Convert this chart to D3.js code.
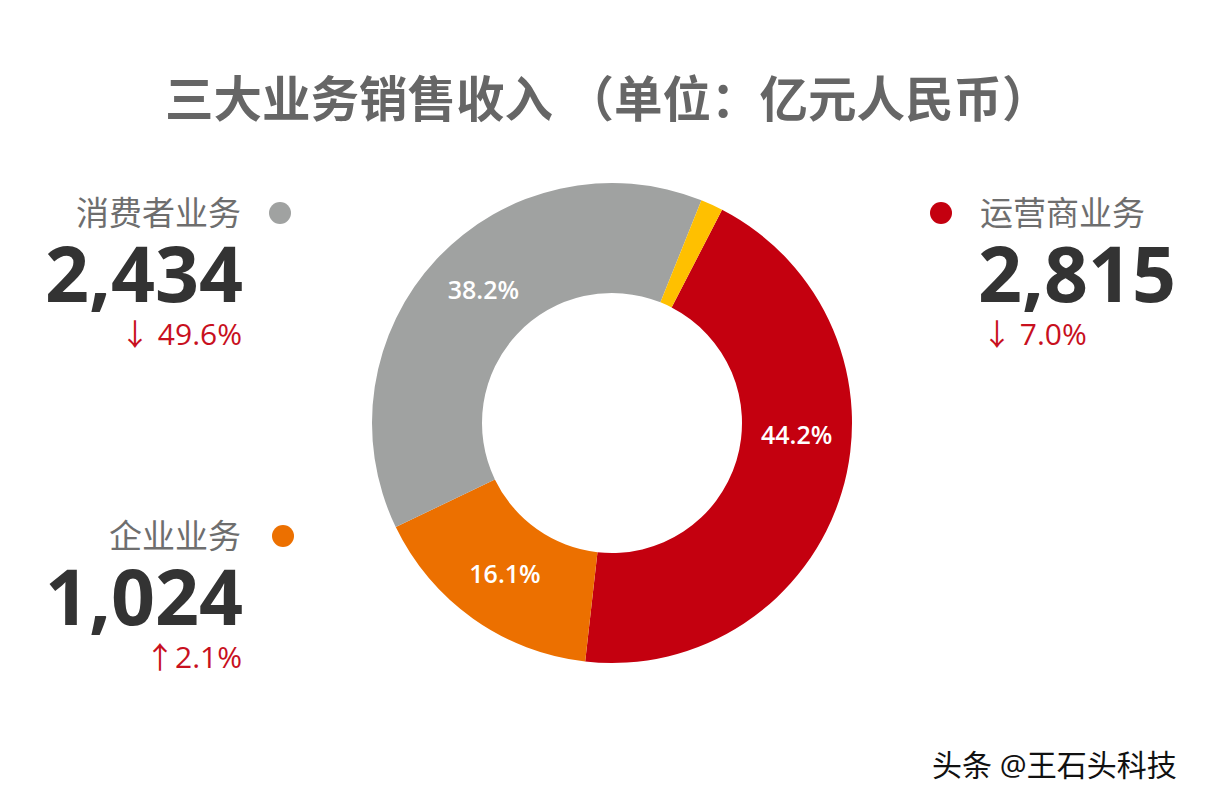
<!DOCTYPE html>
<html>
<head>
<meta charset="utf-8">
<script src="https://cdn.jsdelivr.net/npm/d3@7"></script>
<style>
  body { margin: 0; background: #fff; }
  svg text { font-family: "Open Sans", "Noto Sans CJK SC", sans-serif; }
</style>
</head>
<body>
<div class="grafico"></div>
<script>
// datos
const segmentos = ["运营商业务", "企业业务", "消费者业务", "其他"];
const ingresos = [2815, 1024, 2434, 96];
const porcentajes = ["44.2%", "16.1%", "38.2%", ""];
const variaciones = ["↓ 7.0%", "↑2.1%", "↓ 49.6%", ""];
const colores = ["#c4000f", "#ec7000", "#a0a2a1", "#ffc000"];
const titulo = "三大业务销售收入 （单位：亿元人民币）";
const firma = "头条 @王石头科技";

var width = 1206, height = 802;
var cx = 612, cy = 423, rOut = 240, rIn = 130;

var svg = d3.select(".grafico")
  .append("svg")
  .attr("width", width)
  .attr("height", height);

// titulo
svg.append("text")
  .attr("x", 165)
  .attr("y", 117)
  .attr("font-family", "Noto Sans CJK SC")
  .attr("font-weight", 700)
  .attr("font-size", 48.5)
  .attr("fill", "#666")
  .text(titulo);

// dona
var datos = segmentos.map((d, i) => ({nombre: d, valor: ingresos[i], pct: porcentajes[i], color: colores[i]}));
var inicio = 27.3 * Math.PI / 180;
var pie = d3.pie().sort(null).value(d => d.valor)
  .startAngle(inicio).endAngle(inicio + 2 * Math.PI);
var arc = d3.arc().innerRadius(rIn).outerRadius(rOut);
var arcLabel = d3.arc().innerRadius(185).outerRadius(185);

var g = svg.append("g").attr("transform", "translate(" + cx + "," + cy + ")");
var arcos = pie(datos);
g.selectAll("path")
  .data(arcos)
  .enter()
  .append("path")
  .attr("d", arc)
  .attr("fill", d => d.data.color);

// el rotulo de operadores va un poco mas arriba en el original
var ajusteAngulo = {"运营商业务": -0.23, "消费者业务": 0.05};
g.selectAll("text.pct")
  .data(arcos.filter(d => d.data.pct))
  .enter()
  .append("text")
  .attr("class", "pct")
  .attr("transform", d => {
    let s = ajusteAngulo[d.data.nombre] || 0;
    let c = arcLabel.centroid({startAngle: d.startAngle + s, endAngle: d.endAngle + s});
    return "translate(" + c + ")";
  })
  .attr("text-anchor", "middle")
  .attr("dy", "0.36em")
  .attr("font-size", 25)
  .attr("font-weight", 600)
  .attr("fill", "#fff")
  .text(d => d.data.pct);

// leyendas
var fmt = d3.format(",");
var leyendas = [
  {i: 2, x: 241, y: 213, anchor: "end", dot: 280},
  {i: 0, x: 980, y: 213, anchor: "start", dot: 941},
  {i: 1, x: 241, y: 536, anchor: "end", dot: 283}
];
leyendas.forEach(l => {
  svg.append("circle")
    .attr("cx", l.dot)
    .attr("cy", l.y)
    .attr("r", 11)
    .attr("fill", colores[l.i]);
  svg.append("text")
    .attr("x", l.x)
    .attr("y", l.y + 12)
    .attr("text-anchor", l.anchor)
    .attr("font-family", "Noto Sans CJK SC")
    .attr("font-size", 33)
    .attr("fill", "#6e6e6e")
    .text(segmentos[l.i]);
  svg.append("text")
    .attr("x", l.anchor == "end" ? l.x + 2 : l.x - 2)
    .attr("y", l.y + 89)
    .attr("text-anchor", l.anchor)
    .attr("font-size", 77)
    .attr("font-weight", 700)
    .attr("fill", "#333")
    .text(fmt(ingresos[l.i]));
  svg.append("text")
    .attr("x", l.anchor == "end" ? l.x + 1 : l.x + 2)
    .attr("y", l.y + 132)
    .attr("text-anchor", l.anchor)
    .attr("font-size", 30)
    .attr("fill", "#c8101e")
    .text(variaciones[l.i]);
});

// marca de agua
svg.append("text")
  .attr("x", 932)
  .attr("y", 776)
  .attr("font-family", "Noto Sans CJK SC")
  .attr("font-size", 30)
  .attr("fill", "#111")
  .attr("stroke", "#fff")
  .attr("stroke-width", 1)
  .attr("paint-order", "stroke")
  .text(firma);
</script>
</body>
</html>
